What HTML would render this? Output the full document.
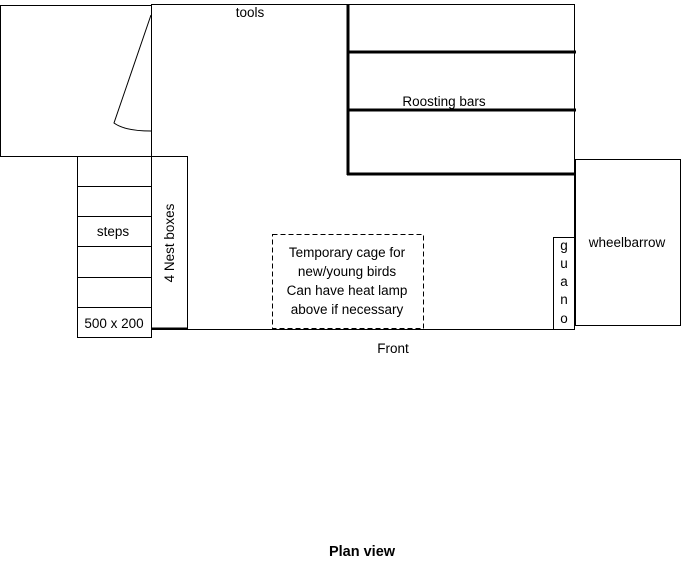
<!DOCTYPE html>
<html><head><style>
body{margin:0;background:#fff}
svg text{font-family:"Liberation Sans",sans-serif;font-size:13.5px;fill:#000}
</style></head><body>
<svg width="681" height="564" xmlns="http://www.w3.org/2000/svg">
<g fill="none" stroke="#000" stroke-width="1">
<rect x="0.5" y="5.5" width="151" height="151"/>
<rect x="151.5" y="4.5" width="423" height="325"/>
<path d="M151 15 L114 123 Q125 131 151 131"/>
<rect x="77.5" y="156.5" width="74" height="181"/>
<line x1="77" y1="186.5" x2="151" y2="186.5"/>
<line x1="77" y1="216.5" x2="151" y2="216.5"/>
<line x1="77" y1="246.5" x2="151" y2="246.5"/>
<line x1="77" y1="277.5" x2="151" y2="277.5"/>
<line x1="77" y1="307.5" x2="151" y2="307.5"/>
<rect x="151.5" y="156.5" width="36" height="173"/>
<rect x="575.5" y="159.5" width="105" height="166"/>
<rect x="553.5" y="237.5" width="21" height="92"/>
<rect x="272.5" y="234.5" width="151" height="94" stroke-dasharray="5,3"/>
</g>
<g stroke="#000" stroke-width="3">
<line x1="348" y1="4" x2="348" y2="175"/>
<line x1="347" y1="52" x2="576" y2="52"/>
<line x1="347" y1="110" x2="576" y2="110"/>
<line x1="347" y1="174" x2="576" y2="174"/>
<line x1="151" y1="328.5" x2="187" y2="328.5" stroke-width="2"/>
</g>
<text x="250" y="17" text-anchor="middle">tools</text>
<text x="444" y="106" text-anchor="middle">Roosting bars</text>
<text x="113" y="236" text-anchor="middle">steps</text>
<text x="114" y="328" text-anchor="middle">500 x 200</text>
<text transform="translate(174,243) rotate(-90)" text-anchor="middle">4 Nest boxes</text>
<text x="627" y="247" text-anchor="middle">wheelbarrow</text>
<text x="347" y="257" text-anchor="middle">Temporary cage for</text>
<text x="347" y="276" text-anchor="middle">new/young birds</text>
<text x="347" y="295" text-anchor="middle">Can have heat lamp</text>
<text x="347" y="314" text-anchor="middle">above if necessary</text>
<text x="564" y="250" text-anchor="middle">g</text>
<text x="564" y="268" text-anchor="middle">u</text>
<text x="564" y="286" text-anchor="middle">a</text>
<text x="564" y="304" text-anchor="middle">n</text>
<text x="564" y="323" text-anchor="middle">o</text>
<text x="393" y="353" text-anchor="middle">Front</text>
<text x="362" y="556" text-anchor="middle" style="font-weight:bold;font-size:14.5px">Plan view</text>
</svg>
</body></html>
